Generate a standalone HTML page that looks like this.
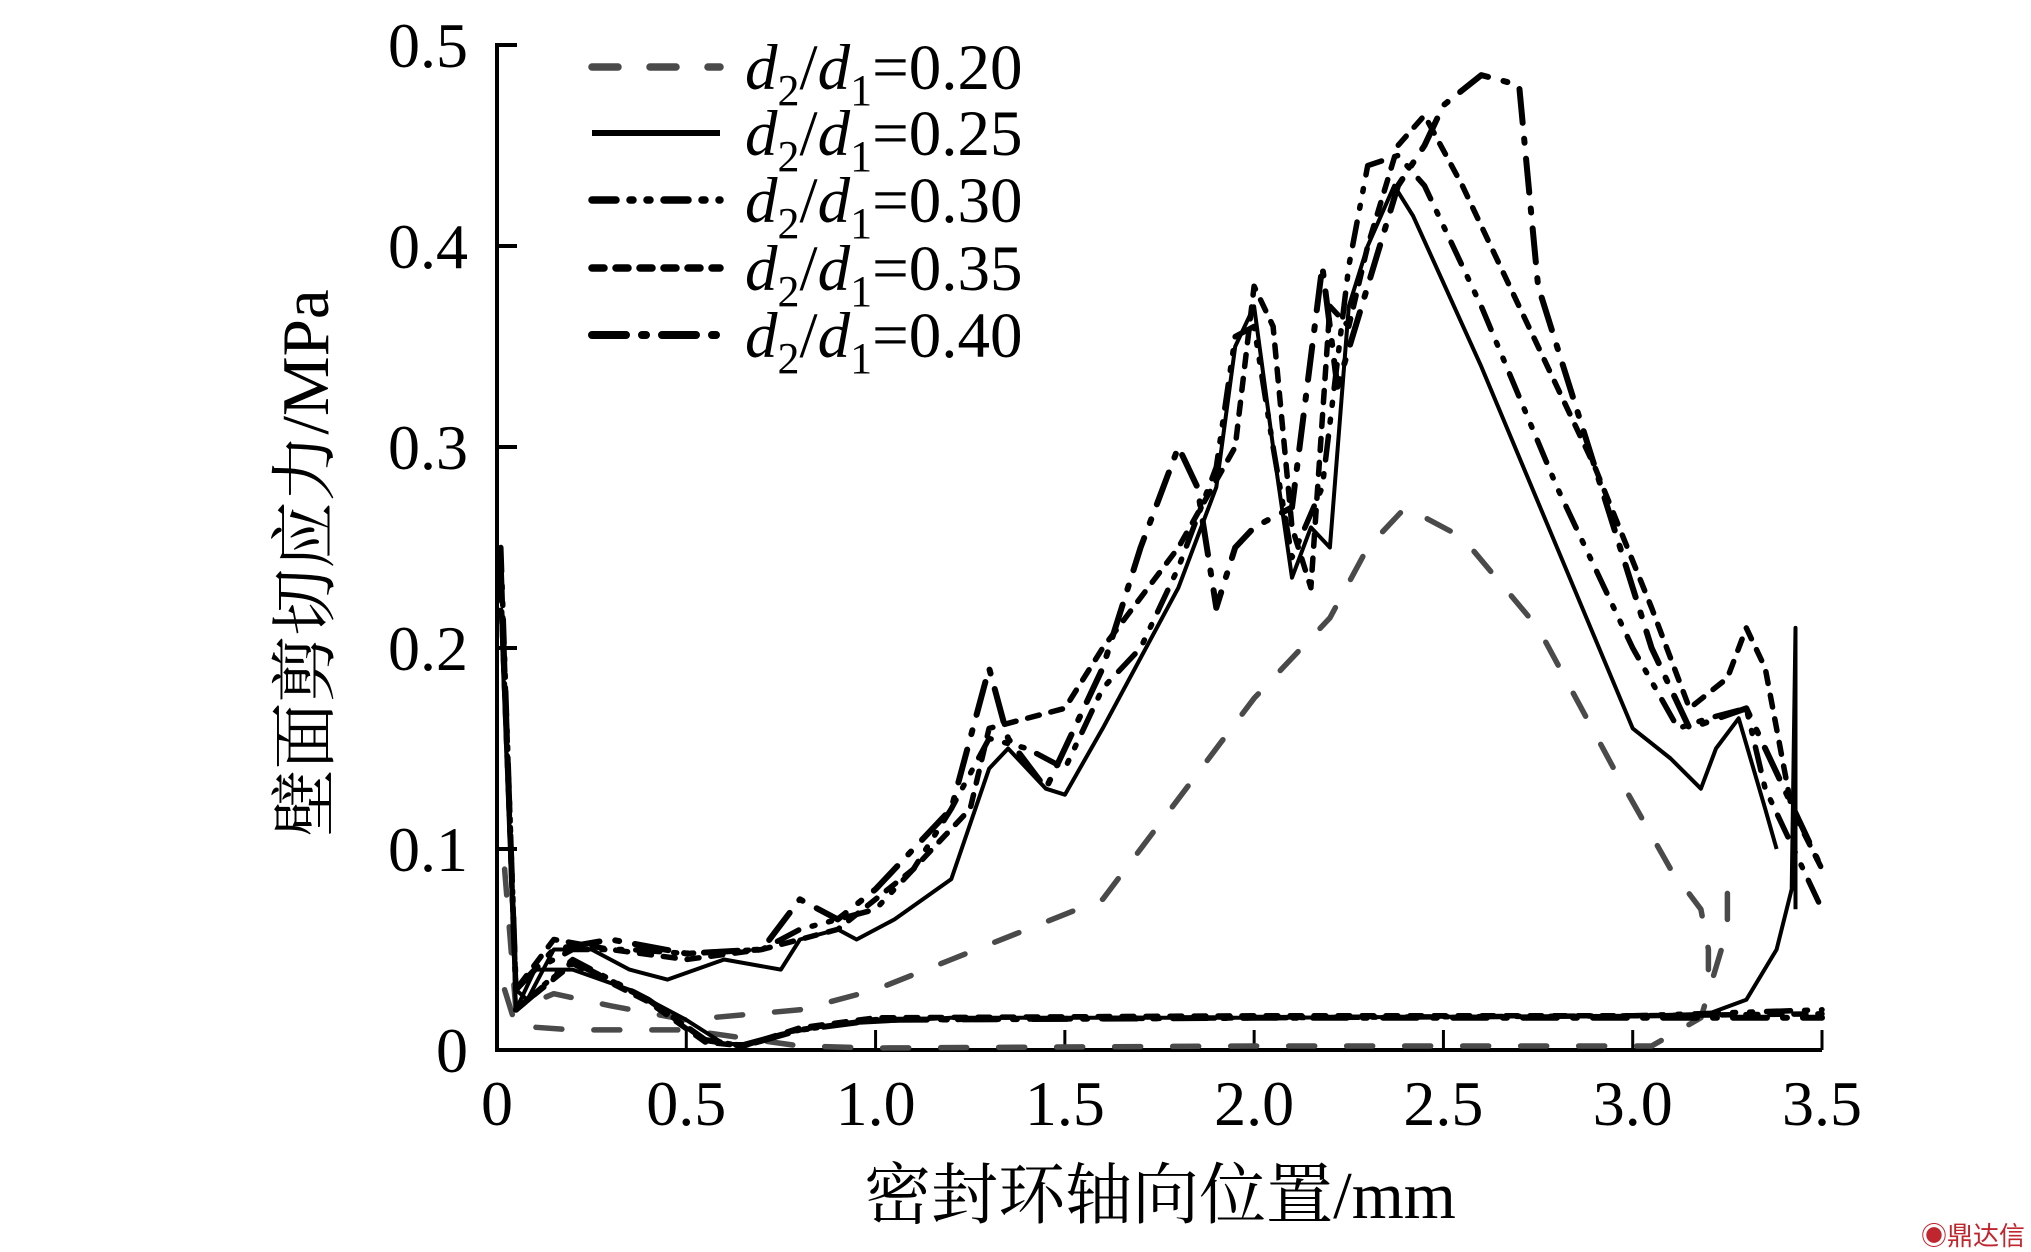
<!DOCTYPE html>
<html><head><meta charset="utf-8">
<style>
html,body{margin:0;padding:0;background:#fff;}
svg{display:block;font-family:"Liberation Serif","Noto Serif CJK SC",serif;}
</style></head>
<body>
<svg id="chart" width="2031" height="1252" viewBox="0 0 2031 1252" xmlns="http://www.w3.org/2000/svg">
<g id="axes"></g>
<g id="series"></g>
<g id="legend"></g>
<text x="1160" y="1218" font-size="67" text-anchor="middle">密封环轴向位置/mm</text>
<text transform="translate(328,563) rotate(-90)" font-size="67" text-anchor="middle">壁面剪切应力/MPa</text>
<text x="2025" y="1245" font-size="26" fill="#c0262d" text-anchor="end" font-family="Liberation Sans,Noto Sans CJK SC,sans-serif">◉鼎达信</text>
</svg>
<script>
const xTicks=[0,0.5,1.0,1.5,2.0,2.5,3.0,3.5];
const xTickLabels=["0","0.5","1.0","1.5","2.0","2.5","3.0","3.5"];
const yTicks=[0,0.1,0.2,0.3,0.4,0.5];
const yTickLabels=["0","0.1","0.2","0.3","0.4","0.5"];
const seriesNames=["d2/d1=0.20","d2/d1=0.25","d2/d1=0.30","d2/d1=0.35","d2/d1=0.40"];
const seriesLabelValues=["0.20","0.25","0.30","0.35","0.40"];
const up20=[[0.02,0.09],[0.05,0.02],[0.15,0.028],[0.3,0.022],[0.5,0.015],[0.8,0.02],[1.0,0.03],[1.2,0.045],[1.4,0.06],[1.6,0.075],[1.8,0.125],[2.0,0.175],[2.2,0.215],[2.3,0.25],[2.4,0.27],[2.55,0.255],[2.75,0.21],[2.95,0.14],[3.1,0.09],[3.18,0.07],[3.2,0.05],[3.2,0.04]];
const lo20=[[0.02,0.03],[0.05,0.012],[0.2,0.01],[0.5,0.01],[0.8,0.002],[1.0,0.001],[2.0,0.002],[3.05,0.002],[3.18,0.016],[3.25,0.06],[3.25,0.08]];
const up25=[[0.01,0.22],[0.05,0.03],[0.08,0.025],[0.15,0.05],[0.25,0.05],[0.35,0.04],[0.45,0.035],[0.6,0.045],[0.75,0.04],[0.8,0.055],[0.9,0.06],[0.95,0.055],[1.05,0.065],[1.2,0.085],[1.3,0.14],[1.35,0.15],[1.45,0.13],[1.5,0.127],[1.6,0.16],[1.8,0.23],[1.9,0.28],[1.95,0.35],[2.0,0.37],[2.05,0.3],[2.1,0.235],[2.15,0.26],[2.2,0.25],[2.25,0.37],[2.3,0.4],[2.37,0.43],[2.42,0.415],[2.6,0.34],[2.8,0.25],[3.0,0.16],[3.1,0.145],[3.18,0.13],[3.22,0.15],[3.28,0.165],[3.35,0.12],[3.38,0.1]];
const lo25=[[0.01,0.22],[0.05,0.02],[0.1,0.04],[0.2,0.04],[0.35,0.03],[0.5,0.015],[0.6,0.003],[0.65,0.003],[0.75,0.008],[0.9,0.013],[1.2,0.016],[2.0,0.016],[3.0,0.017],[3.2,0.018],[3.3,0.025],[3.38,0.05],[3.42,0.08],[3.43,0.21],[3.43,0.07]];
const up30=[[0.01,0.25],[0.05,0.03],[0.1,0.04],[0.2,0.05],[0.35,0.05],[0.5,0.048],[0.7,0.05],[0.8,0.06],[0.9,0.065],[1.0,0.07],[1.1,0.09],[1.2,0.12],[1.3,0.155],[1.4,0.15],[1.5,0.14],[1.6,0.18],[1.7,0.2],[1.8,0.24],[1.9,0.29],[1.95,0.355],[2.0,0.36],[2.05,0.3],[2.1,0.245],[2.18,0.28],[2.25,0.39],[2.3,0.44],[2.38,0.445],[2.45,0.43],[2.6,0.37],[2.8,0.28],[3.0,0.2],[3.12,0.16],[3.2,0.165],[3.3,0.17],[3.35,0.13],[3.45,0.09],[3.5,0.07]];
const lo30=[[0.05,0.02],[0.2,0.045],[0.4,0.025],[0.55,0.005],[0.65,0.002],[0.8,0.01],[1.0,0.015],[2.0,0.016],[3.0,0.017],[3.5,0.02]];
const up35=[[0.01,0.23],[0.05,0.03],[0.15,0.055],[0.3,0.05],[0.5,0.045],[0.7,0.05],[0.9,0.06],[1.1,0.09],[1.25,0.12],[1.3,0.16],[1.4,0.165],[1.5,0.17],[1.6,0.2],[1.8,0.25],[1.95,0.3],[2.0,0.38],[2.05,0.36],[2.1,0.26],[2.15,0.23],[2.2,0.37],[2.25,0.36],[2.3,0.4],[2.38,0.45],[2.45,0.465],[2.55,0.43],[2.7,0.37],[2.9,0.29],[3.05,0.22],[3.15,0.17],[3.25,0.185],[3.3,0.21],[3.35,0.19],[3.42,0.12],[3.5,0.09]];
const lo35=[[0.05,0.02],[0.2,0.043],[0.4,0.024],[0.55,0.004],[0.65,0.002],[0.8,0.011],[1.0,0.016],[2.0,0.017],[3.0,0.017],[3.5,0.018]];
const up40=[[0.01,0.24],[0.05,0.03],[0.15,0.05],[0.3,0.055],[0.5,0.048],[0.7,0.05],[0.8,0.075],[0.9,0.065],[1.0,0.08],[1.1,0.1],[1.2,0.12],[1.3,0.19],[1.35,0.155],[1.45,0.13],[1.5,0.15],[1.6,0.19],[1.7,0.25],[1.8,0.3],[1.85,0.28],[1.9,0.22],[1.95,0.25],[2.0,0.26],[2.1,0.27],[2.18,0.39],[2.22,0.33],[2.3,0.38],[2.38,0.43],[2.45,0.45],[2.5,0.47],[2.6,0.485],[2.7,0.48],[2.75,0.38],[2.9,0.29],[3.05,0.2],[3.15,0.16],[3.3,0.17],[3.4,0.13],[3.5,0.09]];
const lo40=[[0.05,0.02],[0.2,0.044],[0.4,0.025],[0.55,0.005],[0.65,0.002],[0.8,0.01],[1.0,0.015],[2.0,0.016],[3.0,0.016],[3.5,0.016]];

const NS="http://www.w3.org/2000/svg";
const X0=497,X1=1822,Y0=1050,Y1=45,XMAX=3.5,YMAX=0.5;
function xs(v){return X0+(X1-X0)*v/XMAX;}
function ys(v){return Y0-(Y0-Y1)*v/YMAX;}
function mk(tag,attrs,parent){const e=document.createElementNS(NS,tag);for(const k in attrs)e.setAttribute(k,attrs[k]);parent.appendChild(e);return e;}

const axes=document.getElementById('axes');
const yAxis=mk('path',{d:`M${xs(0)+18},${ys(0.5)} H${xs(0)} V${ys(0)} H${xs(3.5)}`,stroke:'#000','stroke-width':4,fill:'none'},axes);


yTicks.forEach((t,i)=>{
  const l=mk('line',{x1:xs(0),x2:xs(0)+20,y1:ys(t),y2:ys(t),stroke:'#000','stroke-width':4},axes);
  
  
  const tx=mk('text',{x:468,y:ys(t)+22,'font-size':64,'text-anchor':'end'},axes);
  tx.textContent=yTickLabels[i];
  
  
});
xTicks.forEach((t,i)=>{
  const l=mk('line',{x1:xs(t),x2:xs(t),y1:ys(0),y2:ys(0)-20,stroke:'#000','stroke-width':3},axes);
  
  
  const tx=mk('text',{x:xs(t),y:1125,'font-size':64,'text-anchor':'middle'},axes);
  tx.textContent=xTickLabels[i];
  
  
});

const styles=[
 {stroke:'#4a4a4a',w:5.5,dash:'26 32',cap:'round'},
 {stroke:'#000',w:4,dash:'',cap:'butt'},
 {stroke:'#000',w:5.5,dash:'24 14 3 14 3 14',cap:'round'},
 {stroke:'#000',w:5.5,dash:'12 12',cap:'round'},
 {stroke:'#000',w:6,dash:'34 16 4 16',cap:'round'}
];
const branches=[[up20,lo20],[up25,lo25],[up30,lo30],[up35,lo35],[up40,lo40]];
const sg=document.getElementById('series');
branches.forEach((br,si)=>{
  const st=styles[si];
  br.forEach((pts,bi)=>{
    const d=pts.map((p,j)=>(j?'L':'M')+xs(p[0]).toFixed(1)+','+ys(p[1]).toFixed(1)).join(' ');
    const p=mk('path',{d:d,fill:'none',stroke:st.stroke,'stroke-width':st.w,'stroke-dasharray':st.dash,'stroke-linecap':st.cap,'stroke-linejoin':'round'},sg);
    
    
  });
});

const lg=document.getElementById('legend');
const rowY=[67,133,200,268,335];
seriesNames.forEach((n,i)=>{
  const st=styles[i];
  const g=mk('g',{},lg);
  
  
  mk('line',{x1:592,x2:720,y1:rowY[i],y2:rowY[i],stroke:st.stroke,'stroke-width':st.w+2,'stroke-dasharray':st.dash,'stroke-linecap':st.cap},g);
  const t=mk('text',{x:745,y:rowY[i]+22,'font-size':65},g);
  t.innerHTML='<tspan font-style="italic">d</tspan><tspan font-size="44" dy="16">2</tspan><tspan dy="-16">/</tspan><tspan font-style="italic">d</tspan><tspan font-size="44" dy="16">1</tspan><tspan dy="-16">='+seriesLabelValues[i]+'</tspan>';
});
</script>
</body></html>
